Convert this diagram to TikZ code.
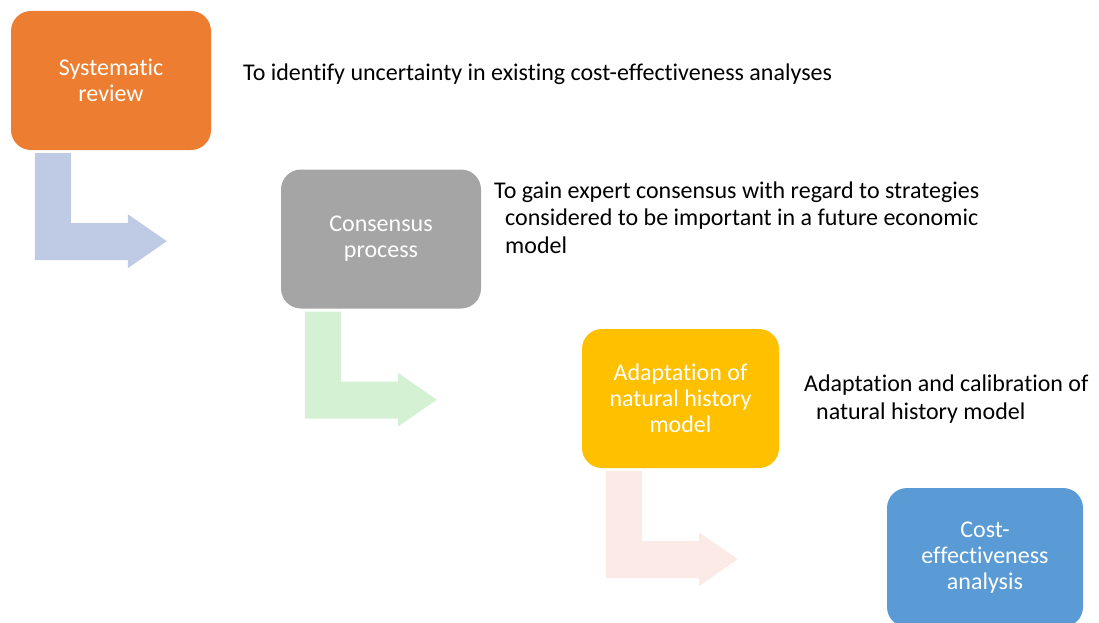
\documentclass[tikz,border=0pt]{standalone}
\usepackage{fontspec}
\setmainfont{Carlito}[Ligatures=NoCommon]
\usetikzlibrary{calc}
\definecolor{srorange}{HTML}{ED7D31}
\definecolor{cpgray}{HTML}{A5A5A5}
\definecolor{nhgold}{HTML}{FFC000}
\definecolor{ceblue}{HTML}{5B9BD5}
\definecolor{arrowblue}{HTML}{BFCAE4}
\definecolor{arrowgreen}{HTML}{D4F1D4}
\definecolor{arrowpink}{HTML}{FBEAE6}
\begin{document}
\begin{tikzpicture}[x=1pt,y=-1pt,
  stage/.style={fill=#1, rounded corners=20pt, minimum height=139pt,
    text=white, align=center, inner sep=0pt,
    font=\fontsize{24}{26}\selectfont},
  note/.style={align=left, inner sep=0pt, anchor=base west,
    font=\fontsize{24}{27.5}\selectfont},
  pics/bentarrow/.style={code={
    \fill[#1] (24,3) -- (60,3) -- (60,73) -- (117,73) -- (117,64)
      -- (156,91) -- (117,118) -- (117,110) -- (24,110) -- cycle;}}]
\useasboundingbox (0,0) rectangle (1099,623);
\clip (0,0) rectangle (1099,623);

% process stages
\node[stage=srorange, minimum width=200pt] (sr) at (111,80.5) {Systematic\\review};
\node[stage=cpgray, minimum width=200pt] (cp) at (381,239) {Consensus\\process};
\node[stage=nhgold, minimum width=197pt] (nh) at (680.5,398.5) {Adaptation of\\natural history\\model};
\node[stage=ceblue, minimum width=196pt] (ce) at (985,557.5) {Cost-\\effectiveness\\analysis};

% bent arrows leading down to the next stage
\pic at (sr.south west) {bentarrow=arrowblue};
\pic at (cp.south west) {bentarrow=arrowgreen};
\pic at (nh.south west) {bentarrow=arrowpink};

% stage descriptions (base anchor sits on the last line)
\node[note] (t1) at (243,81) {To identify uncertainty in existing cost-effectiveness analyses};
\node[note] (t2) at (494,253) {To gain expert consensus with regard to strategies\\
  \hspace*{11pt}considered to be important in a future economic\\
  \hspace*{11pt}model};
\node[note] (t3) at (804,419) {Adaptation and calibration of\\
  \hspace*{12pt}natural history model};
\end{tikzpicture}
\end{document}
